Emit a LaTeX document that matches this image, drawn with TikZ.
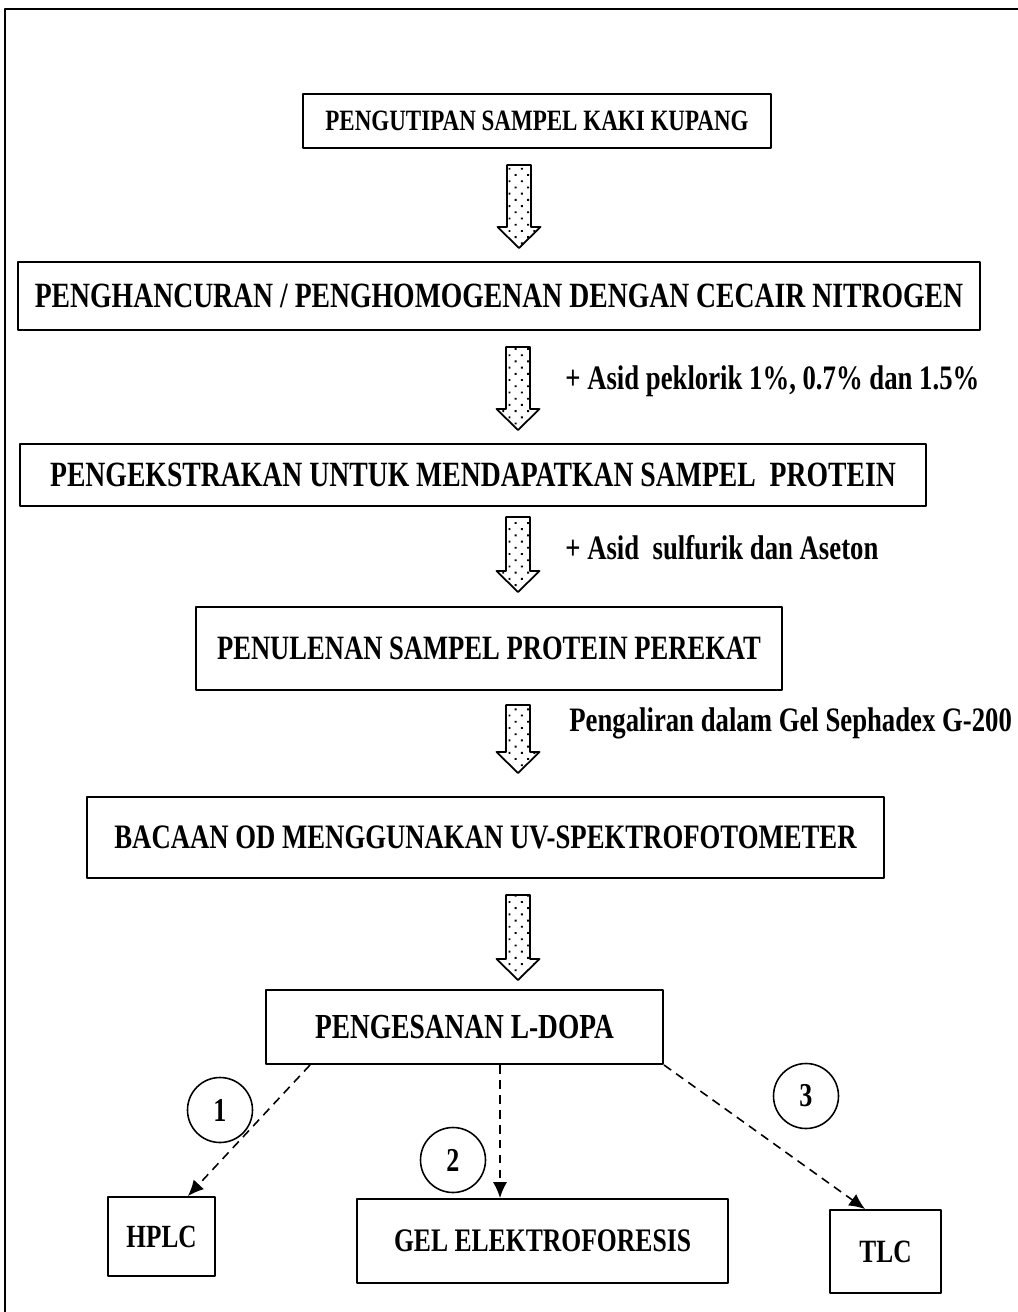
\documentclass[tikz,border=0pt]{standalone}
\usepackage{fontspec}
\setmainfont{Liberation Serif}
\newfontfamily\cond[FakeStretch=0.78]{Liberation Serif}
\usetikzlibrary{calc,arrows.meta,patterns.meta}
\tikzdeclarepattern{
	name=sparsedots,
	bounding box={(-2.5pt,-2.5pt) and (2.5pt,2.5pt)},
	tile size={(5pt,5pt)},
	tile transformation={rotate=45},
	code={\pgfpathcircle{\pgfpointorigin}{0.75pt}\pgfusepath{fill}}
}
\tikzset{
	stepbox/.style={draw,line width=1.1pt,inner sep=0pt,font=\cond\bfseries\fontsize{#1}{#1}\selectfont},
	fatarrow/.style={draw,line width=1pt,pattern=sparsedots},
	numcircle/.style={draw,circle,line width=0.9pt,minimum size=1.3cm,inner sep=0pt,font=\cond\bfseries\fontsize{19}{20}\selectfont},
	testline/.style={dash pattern=on 5pt off 3.5pt,line width=0.9pt,-{Latex[length=9pt,width=8pt]}},
	note/.style={anchor=base west,inner sep=0pt,font=\cond\bfseries\fontsize{19.5}{21}\selectfont}
}
\begin{document}
\begin{tikzpicture}[line join=round]
			\useasboundingbox (0,0) rectangle (20.36,-26.24);
			\draw[line width=1.1pt] (0.1,-27) -- (0.1,-0.18) -- (21,-0.18);
			% langkah kerja
			\node[stepbox=16.8,minimum width=9.36cm,minimum height=1.08cm] (kutip) at (10.74,-2.42) {PENGUTIPAN SAMPEL KAKI KUPANG};
			\node[stepbox=20.2,minimum width=19.24cm,minimum height=1.36cm] (hancur) at (9.98,-5.92) {PENGHANCURAN / PENGHOMOGENAN DENGAN CECAIR NITROGEN};
			\node[stepbox=20.2,minimum width=18.12cm,minimum height=1.24cm] (ekstrak) at (9.46,-9.50) {PENGEKSTRAKAN UNTUK MENDAPATKAN SAMPEL~~PROTEIN};
			\node[stepbox=19.4,minimum width=11.72cm,minimum height=1.66cm] (tulen) at (9.78,-12.97) {PENULENAN SAMPEL PROTEIN PEREKAT};
			\node[stepbox=19.5,minimum width=15.94cm,minimum height=1.62cm] (bacaan) at (9.71,-16.75) {BACAAN OD MENGGUNAKAN UV-SPEKTROFOTOMETER};
			\node[stepbox=20,minimum width=7.94cm,minimum height=1.48cm] (pesan) at (9.29,-20.54) {PENGESANAN L-DOPA};
			\node[stepbox=18.4,minimum width=2.14cm,minimum height=1.58cm] (hplc) at (3.23,-24.73) {HPLC};
			\node[stepbox=18.7,minimum width=7.42cm,minimum height=1.68cm] (gel) at (10.85,-24.82) {GEL ELEKTROFORESIS};
			\node[stepbox=18.5,minimum width=2.22cm,minimum height=1.66cm] (tlc) at (17.71,-25.03) {TLC};
			% anak panah tebal
			\foreach \x/\t/\b in {10.38/-3.30/-4.96,10.36/-6.94/-8.60,10.36/-10.34/-11.84,10.36/-14.10/-15.46,10.36/-17.90/-19.60}
			\draw[fatarrow] ({\x-0.24},\t) -- ({\x+0.24},\t) -- ({\x+0.24},{\b+0.42}) -- ({\x+0.43},{\b+0.42}) -- (\x,\b)
				-- ({\x-0.43},{\b+0.42}) -- ({\x-0.24},{\b+0.42}) -- cycle;
			\node[note] (asid1) at (11.3,-7.78) {+ Asid peklorik 1\%, 0.7\% dan 1.5\%};
			\node[note] (asid2) at (11.3,-11.18) {+ Asid~~sulfurik dan Aseton};
			\node[note] (alir) at (11.38,-14.62) {Pengaliran dalam Gel Sephadex G-200};
			% kaedah pengesanan
			\coordinate (m) at ($(pesan.south)+(0.71,0)$);
			\draw[testline] ($(pesan.south west)+(0.9,0)$) -- ($(hplc.north east)+(-0.56,0)$);
			\draw[testline] (m) -- (m |- gel.north);
			\draw[testline] (pesan.south east) -- ($(tlc.north west)+(0.72,0)$);
			\foreach \n/\x/\y in {1/4.4/-22.2,2/9.06/-23.2,3/16.12/-21.92}
			\node[numcircle] (c\n) at (\x,\y) {\n};
		\end{tikzpicture}
\end{document}
